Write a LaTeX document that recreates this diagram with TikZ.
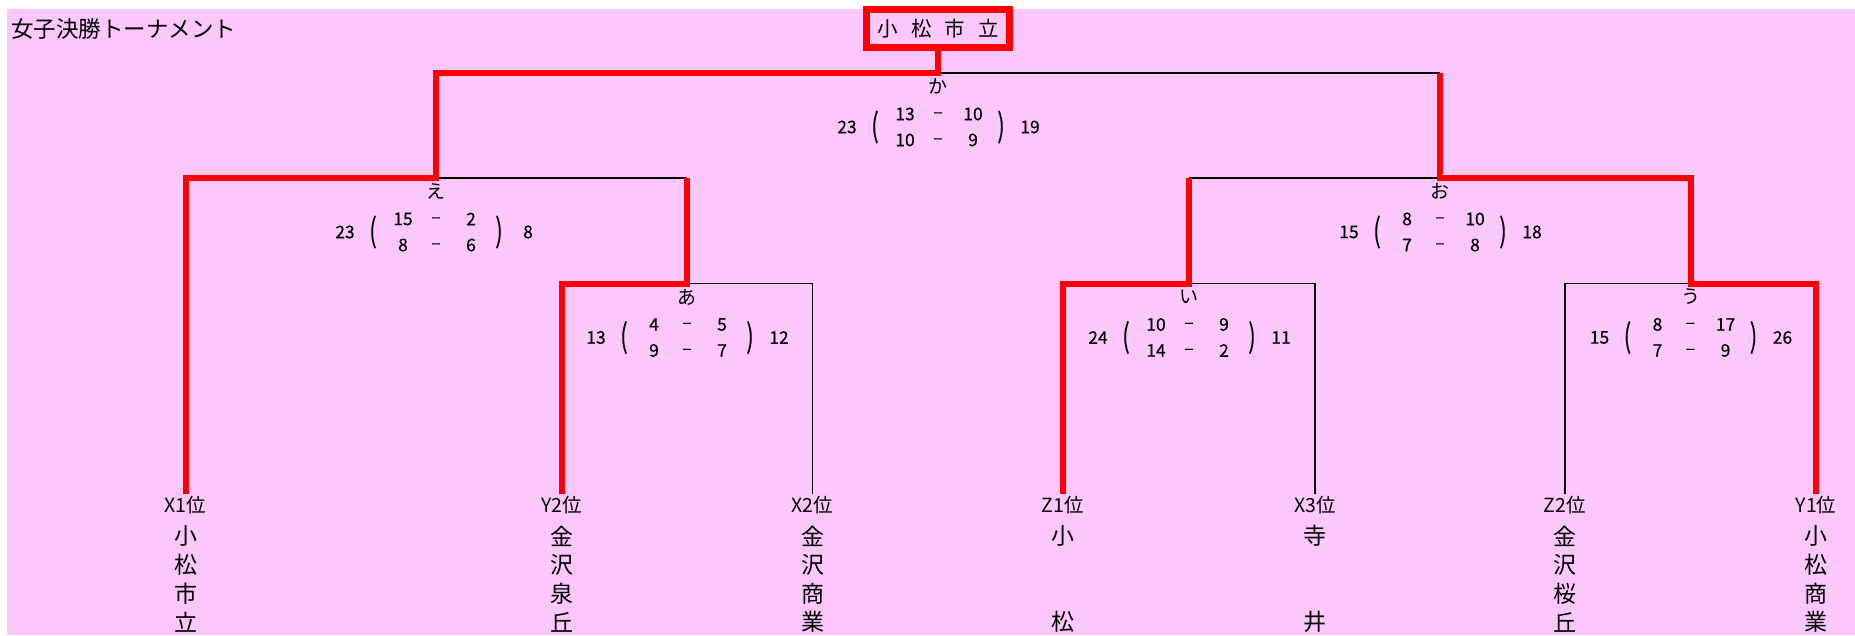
\documentclass[tikz,border=0pt]{standalone}
\usepackage{fontspec}
\usepackage{graphicx}
\setmainfont{Noto Sans CJK JP}
\newfontfamily\numfont{Noto Sans CJK JP}[FakeBold=0.35]
\usetikzlibrary{calc}
\definecolor{bgpink}{RGB}{252,200,252}
\definecolor{winred}{RGB}{255,0,0}
\newcommand{\fsz}[1]{\fontsize{#1}{#1}\selectfont}
\tikzset{
  win/.style={draw=winred, line width=6},
  lose/.style={draw=black, line width=1.8},
  num/.style={inner sep=0, font=\numfont\fsz{17.5}},
  dashmark/.style={inner sep=0, font=\numfont\fsz{17}},
  mlab/.style={inner sep=0, font=\fsz{19}},
  paren/.style={inner sep=0, font=\numfont\fsz{17.5}},
  leaflab/.style={inner xsep=0, inner ysep=2, font=\fsz{19.5}},
  leafch/.style={inner sep=0, font=\fsz{23}},
  champbox/.style={draw=winred, line width=7, fill=bgpink, minimum width=143, minimum height=38, inner sep=0, font=\fsz{20.5}},
  titlestyle/.style={inner sep=0, anchor=west, font=\fsz{22.5}},
}
% #1 match coordinate, #2 label, #3 left total, #4 right total, #5-#8 set scores
\newcommand{\scores}[8]{%
  \node[mlab] (#1-lab) at ($(#1)+(0,13.5)$) {#2};
  \node[num] (#1-lt) at ($(#1)+(-91,54)$) {#3};
  \node[paren] (#1-lp) at ($(#1)+(-63,54)$) {\scalebox{1.25}[1.85]{(}};
  \node[num] (#1-a1) at ($(#1)+(-33,41)$) {#5};
  \node[dashmark] (#1-d1) at ($(#1)+(0,42)$) {–};
  \node[num] (#1-b1) at ($(#1)+(35,41)$) {#6};
  \node[num] (#1-a2) at ($(#1)+(-33,67)$) {#7};
  \node[dashmark] (#1-d2) at ($(#1)+(0,68)$) {–};
  \node[num] (#1-b2) at ($(#1)+(35,67)$) {#8};
  \node[paren] (#1-rp) at ($(#1)+(63,54)$) {\scalebox{1.25}[1.85]{)}};
  \node[num] (#1-rt) at ($(#1)+(92,54)$) {#4};
}
% #1 name, #2 x, #3 label, #4-#7 characters
\newcommand{\leaf}[7]{%
  \node[leaflab, anchor=north] (#1) at (#2,494) {#3};
  \node[leafch] (#1-1) at (#2,536) {#4};
  \node[leafch] (#1-2) at (#2,565) {#5};
  \node[leafch] (#1-3) at (#2,594) {#6};
  \node[leafch] (#1-4) at (#2,622) {#7};
}
\begin{document}
\begin{tikzpicture}[x=1pt, y=-1pt, line join=miter]
\useasboundingbox (0,0) rectangle (1855,635);
\fill[bgpink] (7,9) rectangle (1855,635);

\node[titlestyle] (title) at (11,29) {女子決勝トーナメント};

% match points
\coordinate (ka) at (938,73);
\coordinate (e) at (436,178);
\coordinate (o) at (1440,178);
\coordinate (a) at (687,283.5);
\coordinate (i) at (1189,283.5);
\coordinate (u) at (1690.5,283.5);

% leaves
\leaf{x1}{185.5}{X1位}{小}{松}{市}{立}
\leaf{y2}{561.5}{Y2位}{金}{沢}{泉}{丘}
\leaf{x2}{812.5}{X2位}{金}{沢}{商}{業}
\node[leaflab, anchor=north] (z1) at (1063,494) {Z1位};
\node[leafch] (z1-1) at (1063,536) {小};
\node[leafch] (z1-4) at (1063,622) {松};
\node[leaflab, anchor=north] (x3) at (1315,494) {X3位};
\node[leafch] (x3-1) at (1315,536) {寺};
\node[leafch] (x3-4) at (1315,622) {井};
\leaf{z2}{1565}{Z2位}{金}{沢}{桜}{丘}
\leaf{y1}{1816}{Y1位}{小}{松}{商}{業}

% champion
\node[champbox] (champ) at (938,28.5) {小\hspace{13pt}松\hspace{13pt}市\hspace{13pt}立};

% losing (black) lines
\draw[lose] (x2.north) |- (a);
\draw[lose] (x3.north) |- (i);
\draw[lose] (z2.north) |- (u);
\draw[lose] (e) -- (a |- e);
\draw[lose] (i |- o) -- (o);
\draw[lose] (ka) -- (o |- ka);

% winning (red) lines
\draw[win] (y2.north) |- (a) -- (a |- e);
\draw[win] (z1.north) |- (i) -- (i |- o);
\draw[win] (y1.north) |- (u) |- (o) -- (o |- ka);
\draw[win] (x1.north) |- (e) |- (ka) -- (champ.south);

% scores
\scores{ka}{か}{23}{19}{13}{10}{10}{9}
\scores{e}{え}{23}{8}{15}{2}{8}{6}
\scores{o}{お}{15}{18}{8}{10}{7}{8}
\scores{a}{あ}{13}{12}{4}{5}{9}{7}
\scores{i}{い}{24}{11}{10}{9}{14}{2}
\scores{u}{う}{15}{26}{8}{17}{7}{9}
\end{tikzpicture}
\end{document}
